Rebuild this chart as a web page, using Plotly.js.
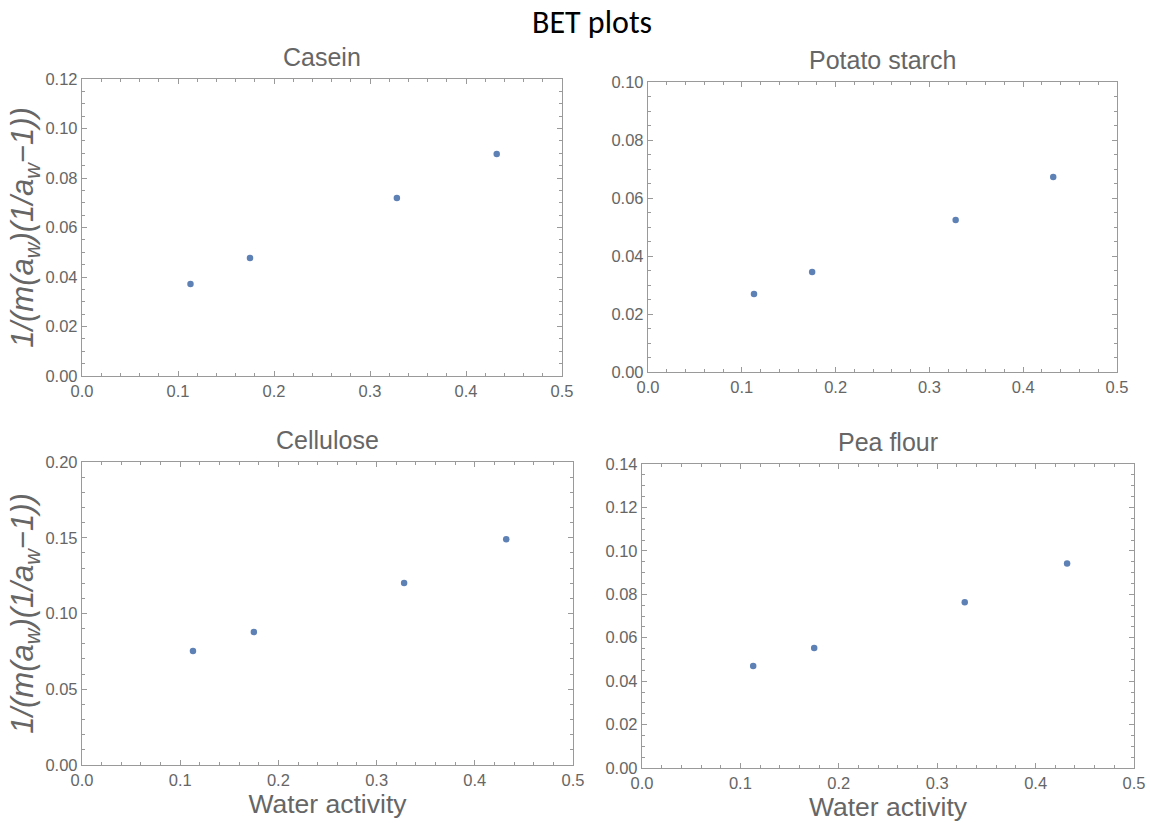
<!DOCTYPE html>
<html>
<head>
<meta charset="utf-8">
<script src="https://cdn.plot.ly/plotly-3.0.1.min.js"></script>
<style>html,body{margin:0;padding:0;background:#fff;}#chart{width:1151px;height:823px;}</style>
</head>
<body>
<div id="chart"></div>
<script>
const mainTitle = "BET plots";
const panelTitles = ["Casein", "Potato starch", "Cellulose", "Pea flour"];
const waterActivity = [0.113, 0.175, 0.328, 0.432];
const casein = [0.0372, 0.0477, 0.0719, 0.0897];
const potatoStarch = [0.0269, 0.0345, 0.0524, 0.0672];
const cellulose = [0.0752, 0.0878, 0.1201, 0.1490];
const peaFlour = [0.0470, 0.0553, 0.0763, 0.0942];
const yMax = [0.12, 0.10, 0.20, 0.14];
const yDtick = [0.02, 0.02, 0.05, 0.02];
const yMinor = [0.005, 0.005, 0.01, 0.005];
const xLabel = "Water activity";
const yLabel = "<i>1/(m(a<sub>w</sub>)(1/a<sub>w</sub>−1))</i>";

const series = [casein, potatoStarch, cellulose, peaFlour];
const W = 1151, H = 823;
// pixel boxes [left, right, top, bottom]
const boxes = [[82, 562, 79, 376], [648, 1117, 82, 372], [82, 573, 462, 765], [642, 1134, 464, 768]];
const gray = "#666666";
const frame = "#9a9a9a";
const fontFam = "Liberation Sans, Arial, sans-serif";

const data = series.map((s, i) => ({
  type: "scatter", mode: "markers",
  x: waterActivity, y: s,
  xaxis: i === 0 ? "x" : "x" + (i + 1),
  yaxis: i === 0 ? "y" : "y" + (i + 1),
  marker: {color: "#5e81b5", size: 6.5},
  showlegend: false, hoverinfo: "x+y"
}));

const layout = {
  width: W, height: H,
  margin: {l: 0, r: 0, t: 0, b: 0},
  paper_bgcolor: "#fff", plot_bgcolor: "#fff",
  font: {family: fontFam, color: gray},
  showlegend: false,
  annotations: [{
    text: mainTitle, xref: "paper", yref: "paper", x: 592 / W, y: 1 - 22 / H,
    xanchor: "center", yanchor: "middle", showarrow: false,
    font: {family: "Carlito, Open Sans, sans-serif", size: 32, color: "#000"}
  }]
};

boxes.forEach((b, i) => {
  const sx = i === 0 ? "" : String(i + 1);
  const xa = {
    domain: [b[0] / W, b[1] / W], range: [0, 0.5], anchor: "y" + sx,
    showline: true, linecolor: frame, linewidth: 1.3, mirror: "allticks",
    ticks: "inside", ticklen: 5, tickcolor: frame, tickwidth: 1,
    dtick: 0.1, tick0: 0, tickformat: ".1f", showgrid: false, zeroline: false,
    tickfont: {size: 16.5, color: gray},
    minor: {dtick: 0.02, ticks: "inside", ticklen: 3, tickcolor: frame, showgrid: false},
    fixedrange: true
  };
  const ya = {
    domain: [1 - b[3] / H, 1 - b[2] / H], range: [0, yMax[i]], anchor: "x" + sx,
    showline: true, linecolor: frame, linewidth: 1.3, mirror: "allticks",
    ticks: "inside", ticklen: 5, tickcolor: frame, tickwidth: 1,
    dtick: yDtick[i], tick0: 0, tickformat: ".2f", showgrid: false, zeroline: false,
    tickfont: {size: 16.5, color: gray},
    minor: {dtick: yMinor[i], ticks: "inside", ticklen: 3, tickcolor: frame, showgrid: false},
    fixedrange: true
  };
  if (i >= 2) xa.title = {text: xLabel, font: {size: 26.5, color: gray}, standoff: 6};
  if (i % 2 === 0) ya.title = {text: yLabel, font: {size: 31, color: gray}, standoff: 2};
  layout["xaxis" + sx] = xa;
  layout["yaxis" + sx] = ya;
  layout.annotations.push({
    text: panelTitles[i], xref: "paper", yref: "paper",
    x: (b[0] + b[1]) / 2 / W, y: 1 - (b[2] - 22) / H,
    xanchor: "center", yanchor: "middle", showarrow: false,
    font: {size: 25, color: gray}
  });
});

Plotly.newPlot("chart", data, layout, {displayModeBar: false, staticPlot: false});
</script>
</body>
</html>
